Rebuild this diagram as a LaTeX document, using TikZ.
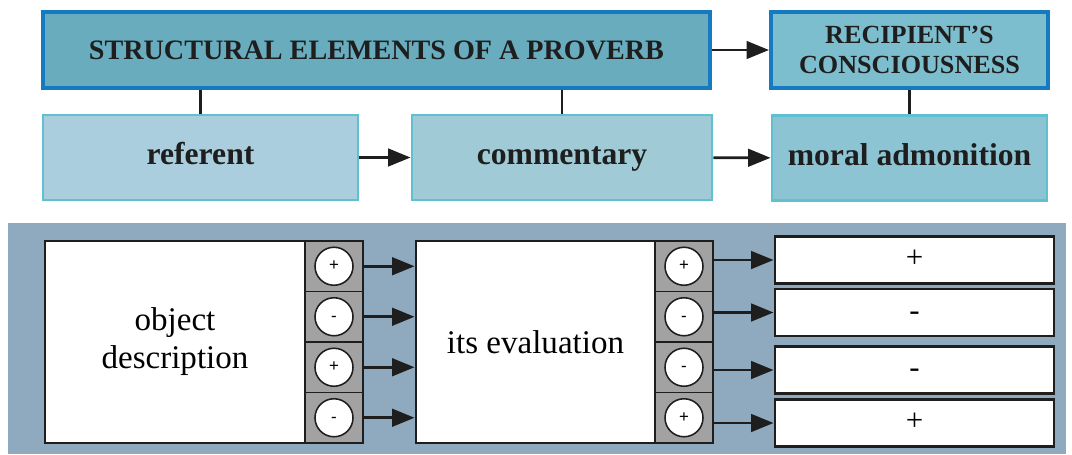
\documentclass[tikz,border=0pt]{standalone}
\usepackage{fontspec}
\setmainfont{Liberation Serif}
\setsansfont{Liberation Sans}
\usetikzlibrary{arrows.meta}

\definecolor{headblue}{RGB}{22,122,192}
\definecolor{structfill}{RGB}{104,172,190}
\definecolor{recipfill}{RGB}{124,190,206}
\definecolor{partcyan}{RGB}{96,192,208}
\definecolor{reffill}{RGB}{170,206,222}
\definecolor{commfill}{RGB}{160,202,214}
\definecolor{moralfill}{RGB}{140,196,212}
\definecolor{panelcol}{RGB}{143,170,190}
\definecolor{cellgray}{RGB}{162,162,162}
\definecolor{inkcol}{RGB}{30,30,30}

\tikzset{
	headbox/.style={draw=headblue, line width=2.8pt, fill=#1, text=inkcol, align=center,
		inner sep=0pt, minimum height=1.9cm, font=\bfseries\fontsize{20}{22}\selectfont},
	partbox/.style={draw=partcyan, line width=2pt, fill=#1, text=inkcol, inner sep=0pt,
		text height=15pt, text depth=5pt,
		minimum height=2.125cm, font=\bfseries\fontsize{22.5}{24}\selectfont},
	descbox/.style={draw=inkcol, line width=2pt, fill=white, align=center, inner sep=0pt,
		minimum height=5.05cm, font=\fontsize{23.5}{27}\selectfont},
	signcell/.style={draw=inkcol, line width=1pt, fill=cellgray, minimum width=1.45cm,
		minimum height=1.2625cm, inner sep=0pt},
	signdot/.style={circle, draw=inkcol, line width=1.1pt, fill=white, minimum size=0.95cm,
		inner sep=0pt, text height=6.5pt, text depth=0pt, font=\sffamily\fontsize{12}{14}\selectfont},
	resbox/.style={draw=inkcol, line width=2pt, fill=white, minimum width=6.975cm,
		minimum height=1.175cm, inner sep=0pt, text height=11pt, text depth=0pt,
		font=\fontsize{22}{24}\selectfont},
	arr/.style={draw=inkcol, line width=2pt, -{Triangle[length=16pt,width=12.5pt]}},
	link/.style={draw=inkcol, line width=1.5pt}
}

\begin{document}
\begin{tikzpicture}[x=0.025cm, y=-0.025cm]
	\useasboundingbox (0,0) rectangle (1072,454);
	% top part
	\node[headbox=structfill, minimum width=16.675cm] (struct) at (376.5,50) {STRUCTURAL ELEMENTS OF A PROVERB};
	\node[headbox=recipfill, minimum width=6.925cm, font=\bfseries\fontsize{18.6}{21}\selectfont] (recip) at (909.5,50) {RECIPIENT’S\\CONSCIOUSNESS};
	\node[partbox=reffill, minimum width=7.875cm] (ref) at (200.5,157.5) {referent};
	\node[partbox=commfill, minimum width=7.5cm] (comm) at (562,157.5) {commentary};
	\node[partbox=moralfill, minimum width=6.875cm] (moral) at (909.5,158) {moral admonition};
	\draw[link] (ref.north) -- (ref.north |- struct.south);
	\draw[link] (comm.north) -- (comm.north |- struct.south);
	\draw[link] (moral.north) -- (moral.north |- recip.south);
	\draw[arr] (struct) -- (recip);
	\draw[arr] (ref) -- (comm);
	\draw[arr] (comm) -- (moral);
	% bottom part
	\fill[panelcol] (8,223) rectangle (1066,454);
	\node[descbox, minimum width=6.5cm] (obj) at (175,342) {object\\description};
	\node[descbox, minimum width=5.975cm] (eval) at (535.5,342) {its evaluation};
	\foreach \s [count=\i] in {+,-,+,-} {
		\node[signcell] (a\i) at (334,215.75+50.5*\i) {};
		\node[signdot] (ca\i) at (a\i) {\s};
		\draw[arr] (a\i.east) -- (a\i.east -| eval.west);
	}
	\foreach \s/\ry [count=\i] in {+/260,-/312.5,-/370,+/423} {
		\node[signcell] (b\i) at (684,215.75+50.5*\i) {};
		\node[signdot] (cb\i) at (b\i) {\s};
		\node[resbox] (r\i) at (914.5,\ry) {\s};
		\draw[arr] (b\i.east |- r\i.west) -- (r\i.west);
	}
\end{tikzpicture}
\end{document}
